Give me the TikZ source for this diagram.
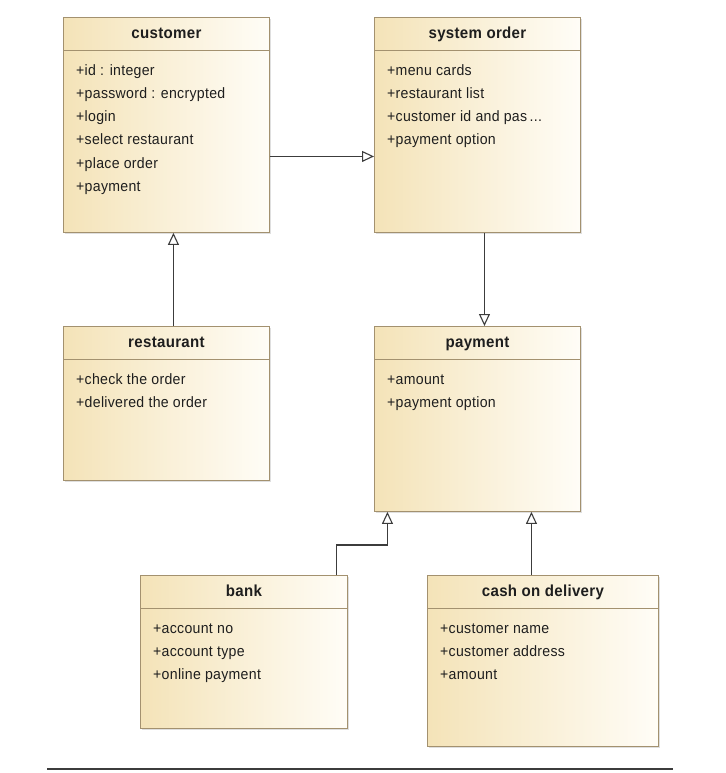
\documentclass[tikz,border=0pt]{standalone}
\usepackage{fontspec}
\setmainfont{Liberation Sans}[LetterSpace=2, FakeStretch=0.94]
\usepackage{tikz}
\usetikzlibrary{arrows.meta, shadows}

\definecolor{boxleft}{HTML}{F4E3B8}
\definecolor{boxright}{HTML}{FFFDF7}
\definecolor{boxline}{HTML}{A3916F}
\definecolor{linkcol}{HTML}{3C3C3C}
\definecolor{textcol}{HTML}{1E1E1E}

\begin{document}
\begin{tikzpicture}[x=1pt, y=-1pt,
    classbox/.style={draw=boxline, line width=0.9pt, left color=boxleft, right color=boxright,
        drop shadow={shadow xshift=1.5pt, shadow yshift=-1.5pt, opacity=0.25},
        inner sep=0pt, anchor=north west},
    classhead/.style={draw=boxline, line width=0.9pt, inner sep=0pt, minimum height=33pt,
        text height=11pt, text depth=1pt, text=textcol,
        anchor=north west, font=\fontsize{16}{18}\selectfont\bfseries},
    classbody/.style={anchor=north west, align=left, inner xsep=13pt, inner ysep=8pt,
        text=textcol, font=\fontsize{15}{23.2}\selectfont},
    gen/.style={draw=linkcol, line width=1.1pt, -{Triangle[open, fill=white, length=12pt, width=11pt]}}]
    \useasboundingbox (0,0) rectangle (725,773);

    % the classes: name / corner / width / height / title / attributes
    \foreach \nm/\x/\y/\w/\h/\title/\lines in {
        customer/63/17/206/215/customer/{+id : integer\\+password : encrypted\\+login\\+select restaurant\\+place order\\+payment},
        sysorder/374/17/206/215/system order/{+menu cards\\+restaurant list\\+customer id and pas\,...\\+payment option},
        restaurant/63/326/206/154/restaurant/{+check the order\\+delivered the order},
        payment/374/326/206/185/payment/{+amount\\+payment option},
        bank/140/575/207/153/bank/{+account no\\+account type\\+online payment},
        cod/427/575/231/171/cash on delivery/{+customer name\\+customer address\\+amount}} {
        \node[classbox, minimum width=\w pt, minimum height=\h pt] (\nm) at (\x,\y) {};
        \node[classhead, minimum width=\w pt] (\nm-head) at (\nm.north west) {\title};
        \node[classbody] (\nm-body) at (\nm-head.south west) {\strut\lines};
    }

    % generalisations
    \draw[gen] ([yshift=-31.5pt]customer.east) -- ([yshift=-31.5pt]sysorder.west);
    \draw[gen] ([xshift=7pt]restaurant.north) -- ([xshift=7pt]customer.south);
    \draw[gen] ([xshift=7pt]sysorder.south) -- ([xshift=7pt]payment.north);
    \draw[gen] ([xshift=92.5pt]bank.north) -- ++(0,-30) -| ([xshift=-90pt]payment.south);
    \draw[gen] ([xshift=-11.5pt]cod.north) -- ([xshift=54pt]payment.south);

    % rule under the diagram
    \coordinate (ruleL) at (47,769);
    \coordinate (ruleR) at (673,769);
    \draw[linkcol, line width=1.8pt] (ruleL) -- (ruleR);
\end{tikzpicture}
\end{document}
